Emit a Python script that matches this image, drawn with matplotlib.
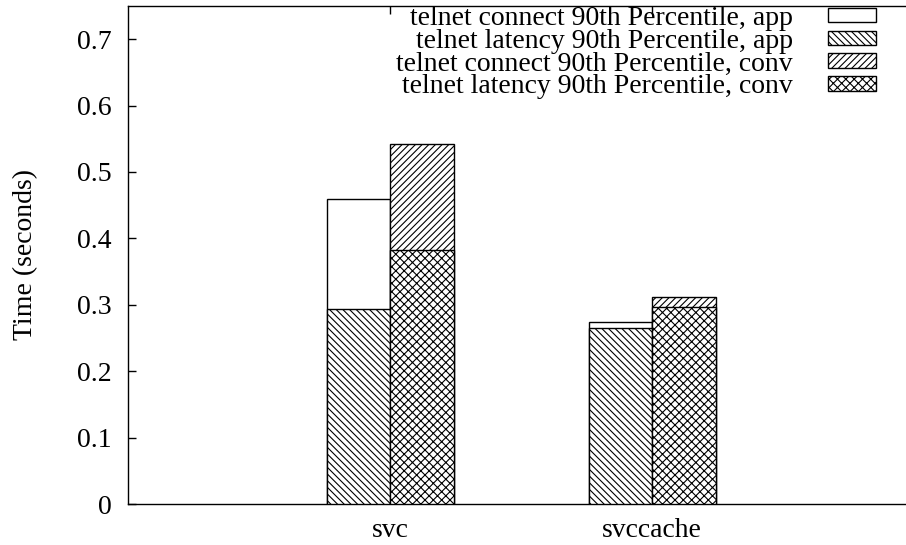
import matplotlib
matplotlib.use("Agg")
import matplotlib.pyplot as plt
from matplotlib.patches import Patch
import numpy as np

categories = ["svc", "svccache"]
connect_app = [0.459, 0.274]
latency_app = [0.294, 0.265]
connect_conv = [0.542, 0.312]
latency_conv = [0.382, 0.297]

yticks = [0, 0.1, 0.2, 0.3, 0.4, 0.5, 0.6, 0.7]
ytick_labels = ["0", "0.1", "0.2", "0.3", "0.4", "0.5", "0.6", "0.7"]

labels = [
    "telnet connect 90th Percentile, app",
    "telnet latency 90th Percentile, app",
    "telnet connect 90th Percentile, conv",
    "telnet latency 90th Percentile, conv",
]

plt.rcParams["font.family"] = ["Liberation Serif", "DejaVu Serif"]
plt.rcParams["hatch.linewidth"] = 0.8
plt.rcParams["hatch.color"] = "black"

FS = 20

fig = plt.figure(figsize=(9.06, 5.45), dpi=100)
ax = fig.add_axes([128 / 906, 41 / 545, 1 - 128 / 906 + 0.002, (504 - 6) / 545])

x = np.arange(len(categories))
w = 0.242
lw = 1.0
h_app = "\\" * 5
h_cc = "/" * 5
h_lc = "xxxx"

ax.bar(x - w / 2, connect_app, w, facecolor="white", edgecolor="black", linewidth=lw, zorder=2)
ax.bar(x - w / 2, latency_app, w, facecolor="white", edgecolor="black", hatch=h_app, linewidth=lw, zorder=3)
ax.bar(x + w / 2, connect_conv, w, facecolor="white", edgecolor="black", hatch=h_cc, linewidth=lw, zorder=2)
ax.bar(x + w / 2, latency_conv, w, facecolor="white", edgecolor="black", hatch=h_lc, linewidth=lw, zorder=3)

ax.set_xlim(-1.0, 1.975)
ax.set_ylim(0, 0.75)
ax.set_xticks(x)
ax.set_xticklabels(categories, fontsize=FS)
ax.set_yticks(yticks)
ax.set_yticklabels(ytick_labels, fontsize=FS)
ax.tick_params(axis="x", direction="in", length=6, top=True, bottom=True, pad=10, width=1)
ax.tick_params(axis="y", direction="in", length=6, left=True, right=False, pad=12, width=1)
ax.spines["right"].set_visible(False)
for s in ["left", "top", "bottom"]:
    ax.spines[s].set_linewidth(1.0)

ax.set_ylabel("Time (seconds)", fontsize=FS)
ax.yaxis.set_label_coords(-0.1154, 0.5)

handles = [
    Patch(facecolor="white", edgecolor="black", linewidth=1),
    Patch(facecolor="white", edgecolor="black", hatch=h_app, linewidth=1),
    Patch(facecolor="white", edgecolor="black", hatch=h_cc, linewidth=1),
    Patch(facecolor="white", edgecolor="black", hatch=h_lc, linewidth=1),
]
ax.legend(handles, labels, loc="upper right", bbox_to_anchor=(876 / 906, 1 - 6 / 545),
          bbox_transform=fig.transFigure,
          frameon=False, markerfirst=False, fontsize=FS, handlelength=1.73,
          handleheight=0.43, handletextpad=1.26, labelspacing=-0.08, borderaxespad=0.0,
          borderpad=0.0)

fig.savefig("out.png", dpi=100)
